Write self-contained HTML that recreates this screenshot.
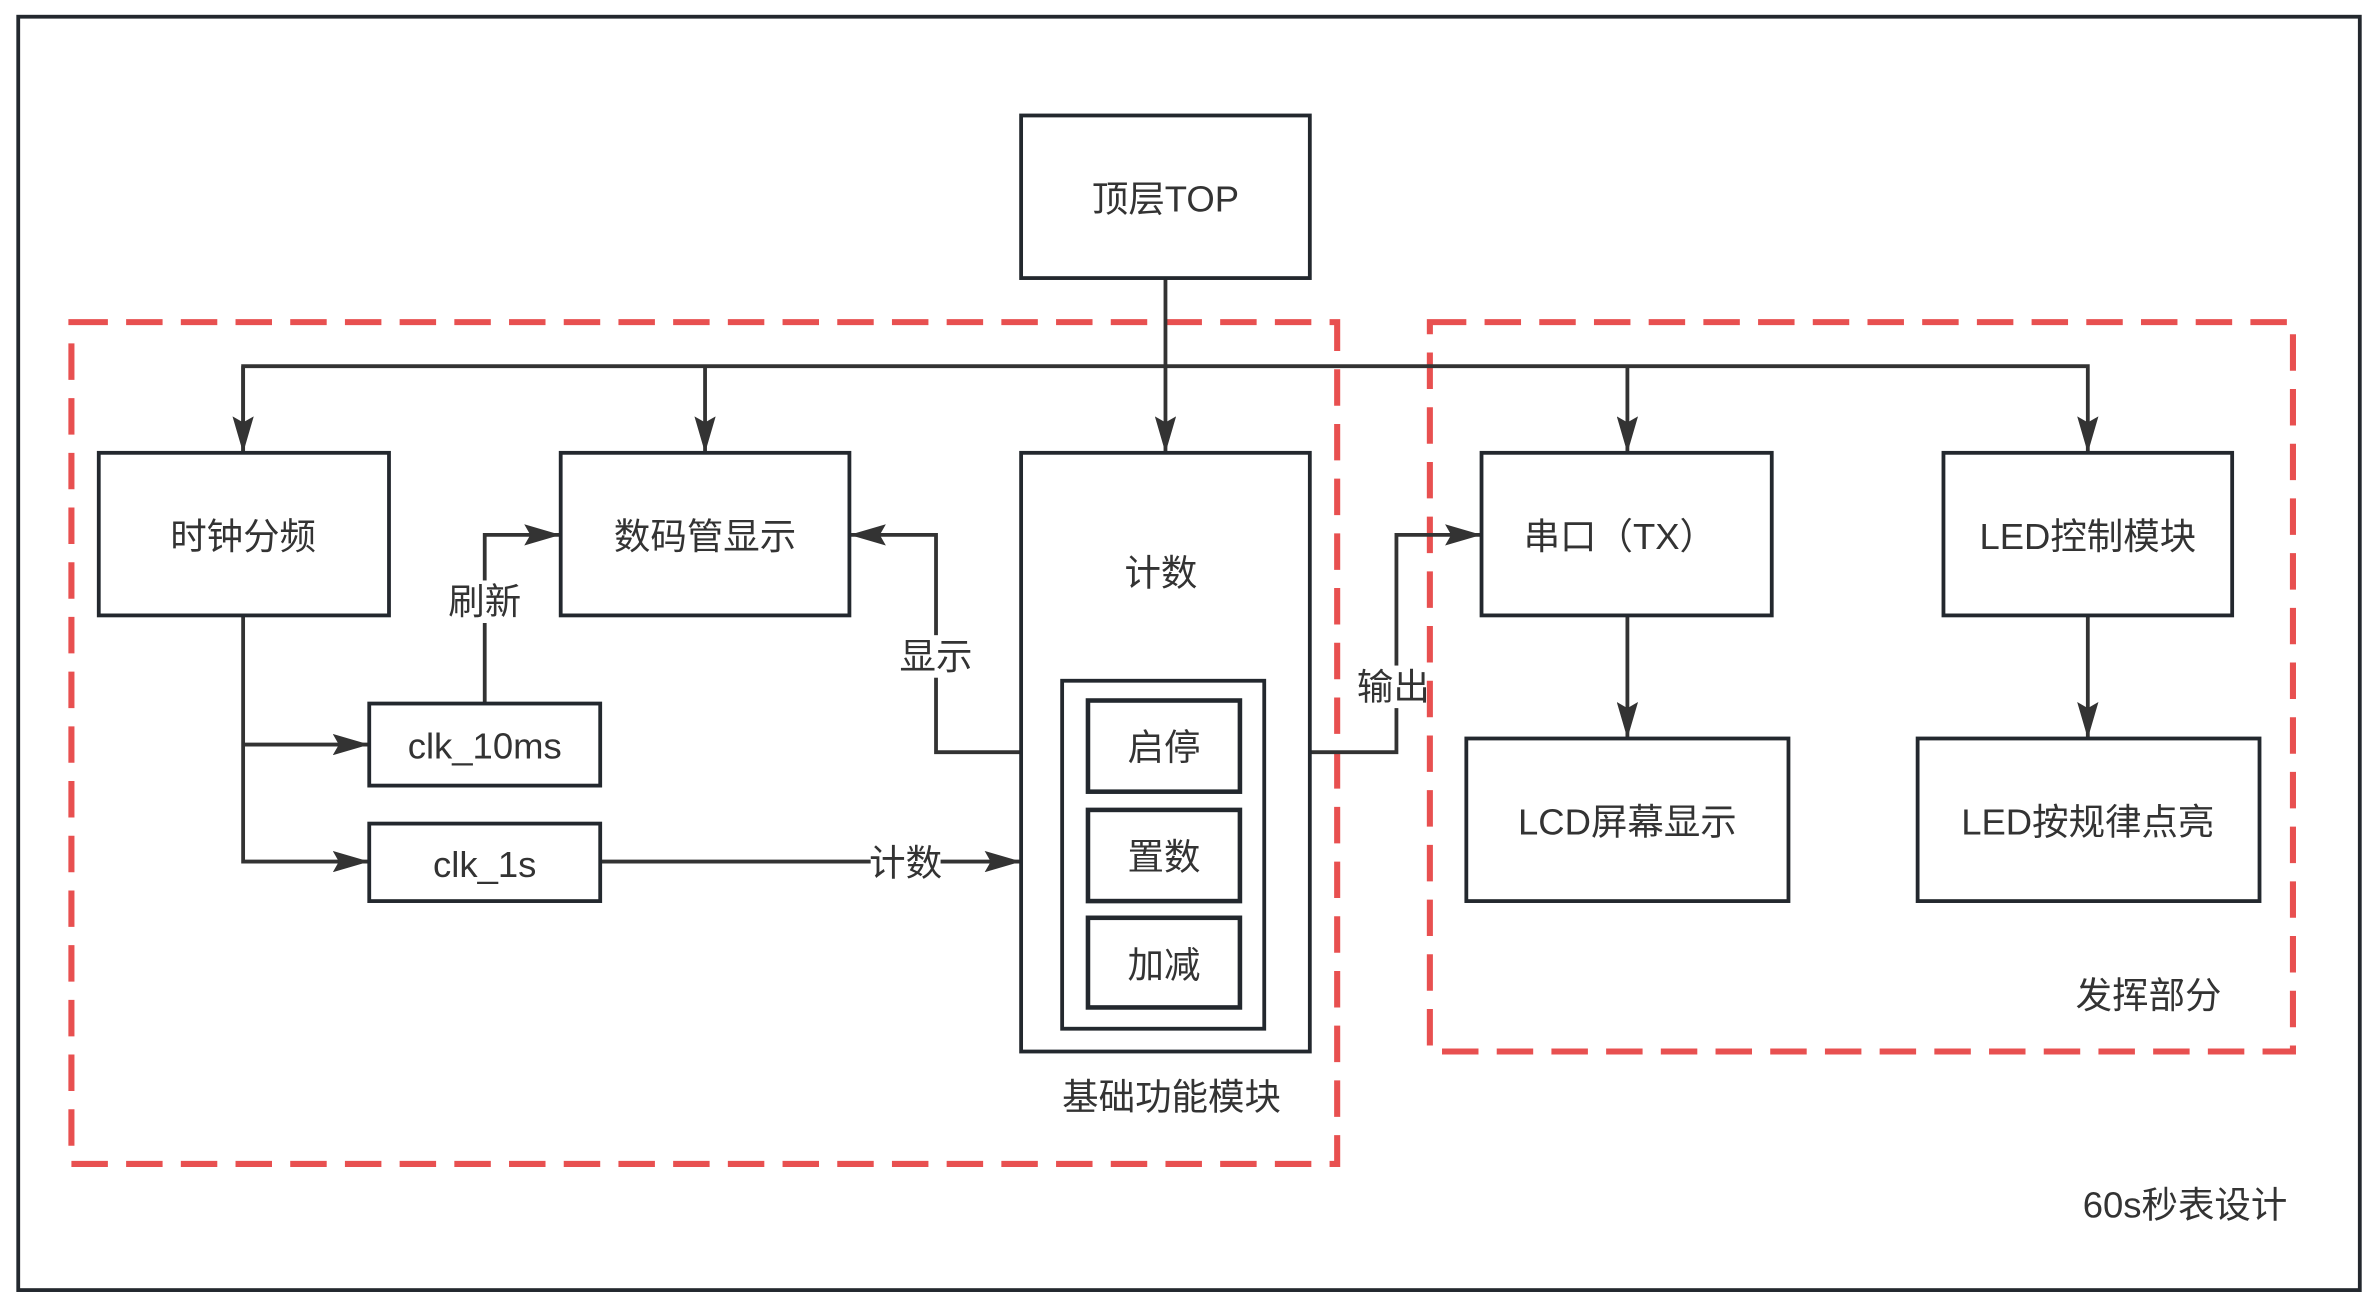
<!DOCTYPE html>
<html><head><meta charset="utf-8"><style>
html,body{margin:0;padding:0;background:#fff;}
svg{display:block;}
text{font-family:"Liberation Sans","Noto Sans CJK SC",sans-serif;fill:#333;font-size:24px;text-anchor:middle;dominant-baseline:central;}
</style></head><body>
<svg width="2375" height="1303" viewBox="0 0 1563 857.5" preserveAspectRatio="none" xmlns="http://www.w3.org/2000/svg">
<defs>
<marker id="a" viewBox="0 0 24 14" refX="23" refY="7" markerWidth="24" markerHeight="14" markerUnits="userSpaceOnUse" orient="auto">
<path d="M0,0 L24,7 L0,14 L4,7 Z" fill="#333"/></marker>
</defs>
<rect x="12" y="11" width="1541" height="838" fill="#fff" stroke="#23282e" stroke-width="2.5"/>
<g fill="none" stroke="#e85050" stroke-width="4" stroke-dasharray="24,12">
<rect x="47" y="212" width="833" height="554"/>
<rect x="941" y="212" width="568" height="480"/>
</g>
<g fill="none" stroke="#333" stroke-width="2.5">
<line x1="767" y1="183" x2="767" y2="297" marker-end="url(#a)"/>
<polyline points="160,297 160,241 1374,241 1374,297" marker-end="url(#a)"/>
<line x1="160" y1="241" x2="160" y2="297" marker-end="url(#a)"/>
<line x1="464" y1="241" x2="464" y2="297" marker-end="url(#a)"/>
<line x1="1071" y1="241" x2="1071" y2="297" marker-end="url(#a)"/>
<line x1="1071" y1="405" x2="1071" y2="485" marker-end="url(#a)"/>
<line x1="1374" y1="405" x2="1374" y2="485" marker-end="url(#a)"/>
<polyline points="160,405 160,567 242,567" marker-end="url(#a)"/>
<line x1="160" y1="490" x2="242" y2="490" marker-end="url(#a)"/>
<polyline points="319,463 319,352 368,352" marker-end="url(#a)"/>
<polyline points="672,495 616,495 616,352 560,352" marker-end="url(#a)"/>
<line x1="395" y1="567" x2="671" y2="567" marker-end="url(#a)"/>
<polyline points="862,495 919,495 919,352 974,352" marker-end="url(#a)"/>
</g>
<g fill="#fff" stroke="#23282e" stroke-width="2.5">
<rect x="672" y="76" width="190" height="107"/>
<rect x="65" y="298" width="191" height="107"/>
<rect x="369" y="298" width="190" height="107"/>
<rect x="672" y="298" width="190" height="394"/>
<rect x="975" y="298" width="191" height="107"/>
<rect x="1279" y="298" width="190" height="107"/>
<rect x="965" y="486" width="212" height="107"/>
<rect x="1262" y="486" width="225" height="107"/>
<rect x="243" y="463" width="152" height="54"/>
<rect x="243" y="542" width="152" height="51"/>
<rect x="699" y="448" width="133" height="229"/>
<rect x="716" y="461" width="100" height="60" stroke-width="3"/>
<rect x="716" y="533" width="100" height="60" stroke-width="3"/>
<rect x="716" y="604" width="100" height="59" stroke-width="3"/>
</g>
<g fill="#fff">
<rect x="296" y="382" width="46" height="28"/>
<rect x="593" y="418" width="46" height="28"/>
<rect x="573" y="554" width="46" height="28"/>
<rect x="897" y="438" width="40" height="28"/>
</g>
<text x="767" y="131">顶层TOP</text>
<text x="160" y="353">时钟分频</text>
<text x="464" y="353">数码管显示</text>
<text x="764" y="377">计数</text>
<text x="1066" y="353">串口（TX）</text>
<text x="1374" y="353">LED控制模块</text>
<text x="1071" y="541">LCD屏幕显示</text>
<text x="1374" y="541">LED按规律点亮</text>
<text x="319" y="491">clk_10ms</text>
<text x="319" y="569">clk_1s</text>
<text x="766" y="492">启停</text>
<text x="766" y="564">置数</text>
<text x="766" y="635">加减</text>
<text x="319" y="396">刷新</text>
<text x="616" y="432">显示</text>
<text x="596" y="568">计数</text>
<text x="917" y="452">输出</text>
<text x="771" y="722">基础功能模块</text>
<text x="1414" y="655">发挥部分</text>
<text x="1438" y="793">60s秒表设计</text>
</svg>
</body></html>
